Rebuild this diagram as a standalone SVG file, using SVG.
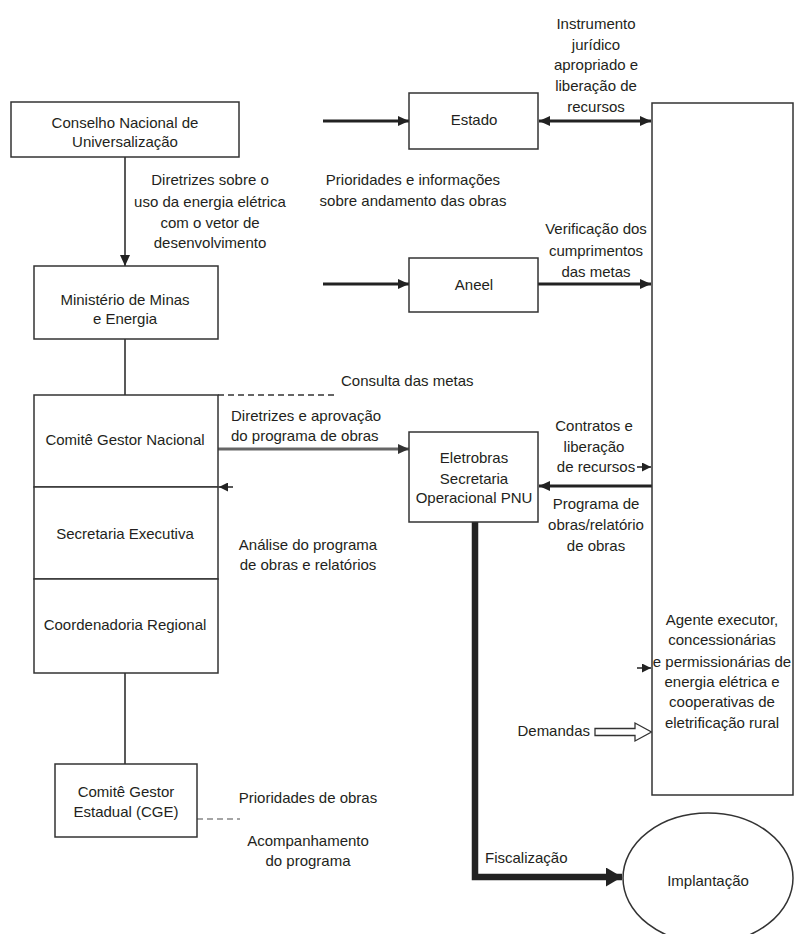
<svg xmlns="http://www.w3.org/2000/svg" width="795" height="934" viewBox="0 0 795 934">
<style>
text{font-family:"Liberation Sans",Arial,sans-serif;font-size:15px;fill:#231f20}
.m{text-anchor:middle}
.e{text-anchor:end}
.box{fill:#fff;stroke:#333;stroke-width:1.5}
.ln{fill:none;stroke:#222;stroke-width:1.5}
.th{fill:none;stroke:#222;stroke-width:3}
.gr{fill:none;stroke:#666;stroke-width:3}
.ds{fill:none;stroke:#333;stroke-width:1.5;stroke-dasharray:6 4}
.dg{fill:none;stroke:#888;stroke-width:1.5;stroke-dasharray:6 4}
</style>
<defs>
<marker id="a" markerUnits="userSpaceOnUse" markerWidth="11" markerHeight="10" refX="11" refY="5" orient="auto-start-reverse"><path d="M0,0 L11,5 L0,10 z" fill="#222"/></marker>
<marker id="ag" markerUnits="userSpaceOnUse" markerWidth="11" markerHeight="10" refX="11" refY="5" orient="auto"><path d="M0,0 L11,5 L0,10 z" fill="#333"/></marker>
<marker id="as" markerUnits="userSpaceOnUse" markerWidth="9" markerHeight="9" refX="9" refY="4.5" orient="auto"><path d="M0,0 L9,4.5 L0,9 z" fill="#222"/></marker>
<marker id="ab" markerUnits="userSpaceOnUse" markerWidth="16" markerHeight="19" refX="16" refY="9.5" orient="auto"><path d="M0,0 L16,9.5 L0,19 z" fill="#222"/></marker>
</defs>

<g id="connectors">
<line class="ln" x1="125" y1="157" x2="125" y2="266" marker-end="url(#a)"/>
<line class="th" x1="323" y1="121" x2="409" y2="121" marker-end="url(#a)"/>
<line class="th" x1="539" y1="121" x2="651" y2="121" marker-start="url(#a)" marker-end="url(#a)"/>
<line class="th" x1="323" y1="284" x2="409" y2="284" marker-end="url(#a)"/>
<line class="th" x1="538" y1="284" x2="651" y2="284" marker-end="url(#a)"/>
<line class="ln" x1="125" y1="339" x2="125" y2="395"/>
<line class="ds" x1="218" y1="395" x2="337" y2="395"/>
<line class="gr" x1="218" y1="449" x2="409" y2="449" marker-end="url(#ag)"/>
<line class="ln" x1="233" y1="487" x2="219" y2="487" marker-end="url(#as)"/>
<line class="ln" x1="637" y1="467" x2="651" y2="467" marker-end="url(#as)"/>
<line class="th" x1="652" y1="486" x2="539" y2="486" marker-end="url(#a)"/>
<line class="ln" x1="637" y1="668" x2="651" y2="668" marker-end="url(#as)"/>
<path d="M595,728.5 H635 V723 L651.5,732 L635,741 V735.5 H595 Z" fill="#fff" stroke="#333" stroke-width="1.3"/>
<line class="ln" x1="125" y1="673" x2="125" y2="764"/>
<line class="dg" x1="197" y1="819" x2="240" y2="819"/>
<path d="M475,522 V877 H622" fill="none" stroke="#222" stroke-width="6.5" marker-end="url(#ab)"/>
</g>

<g id="conselho">
<rect class="box" x="11" y="102" width="228" height="55"/>
<text class="m" x="125" y="128">Conselho Nacional de</text>
<text class="m" x="125" y="147">Universalização</text>
</g>
<g id="label-diretrizes">
<text class="m" x="210" y="185">Diretrizes sobre o</text>
<text class="m" x="210" y="207">uso da energia elétrica</text>
<text class="m" x="210" y="228">com o vetor de</text>
<text class="m" x="210" y="248">desenvolvimento</text>
</g>
<g id="ministerio">
<rect class="box" x="34" y="266" width="184" height="73"/>
<text class="m" x="125" y="305">Ministério de Minas</text>
<text class="m" x="125" y="324">e Energia</text>
</g>
<g id="estado">
<rect class="box" x="409" y="93" width="129" height="56"/>
<text class="m" x="474" y="125">Estado</text>
</g>
<g id="label-instrumento">
<text class="m" x="596" y="29">Instrumento</text>
<text class="m" x="596" y="50">jurídico</text>
<text class="m" x="596" y="70">apropriado e</text>
<text class="m" x="596" y="91">liberação de</text>
<text class="m" x="596" y="112">recursos</text>
</g>
<g id="label-prioridades">
<text class="m" x="413" y="185">Prioridades e informações</text>
<text class="m" x="413" y="206">sobre andamento das obras</text>
</g>
<g id="label-verificacao">
<text class="m" x="596" y="234">Verificação dos</text>
<text class="m" x="596" y="256">cumprimentos</text>
<text class="m" x="596" y="277">das metas</text>
</g>
<g id="aneel">
<rect class="box" x="409" y="258" width="129" height="54"/>
<text class="m" x="474" y="290">Aneel</text>
</g>
<g id="agente">
<rect class="box" x="652" y="103" width="141" height="692"/>
<text class="m" x="722" y="625">Agente executor,</text>
<text class="m" x="722" y="645">concessionárias</text>
<text class="m" x="722" y="667">e permissionárias de</text>
<text class="m" x="722" y="687">energia elétrica e</text>
<text class="m" x="722" y="707">cooperativas de</text>
<text class="m" x="722" y="728">eletrificação rural</text>
</g>
<g id="label-consulta">
<text x="341" y="386">Consulta das metas</text>
</g>
<g id="comite-nacional">
<rect class="box" x="34" y="395" width="184" height="92"/>
<text class="m" x="125" y="445">Comitê Gestor Nacional</text>
</g>
<g id="secretaria-executiva">
<rect class="box" x="34" y="487" width="184" height="92"/>
<text class="m" x="125" y="539">Secretaria Executiva</text>
</g>
<g id="coordenadoria">
<rect class="box" x="34" y="579" width="184" height="94"/>
<text class="m" x="125" y="630">Coordenadoria Regional</text>
</g>
<g id="label-diretrizes-aprov">
<text x="231" y="421">Diretrizes e aprovação</text>
<text x="231" y="441">do programa de obras</text>
</g>
<g id="label-analise">
<text class="m" x="308" y="550">Análise do programa</text>
<text class="m" x="308" y="570">de obras e relatórios</text>
</g>
<g id="eletrobras">
<rect class="box" x="409" y="432" width="129" height="90"/>
<text class="m" x="474" y="463">Eletrobras</text>
<text class="m" x="474" y="484">Secretaria</text>
<text class="m" x="474" y="503">Operacional PNU</text>
</g>
<g id="label-contratos">
<text class="m" x="594" y="431">Contratos e</text>
<text class="m" x="594" y="452">liberação</text>
<text class="m" x="596" y="472">de recursos</text>
</g>
<g id="label-programa">
<text class="m" x="596" y="509">Programa de</text>
<text class="m" x="596" y="530">obras/relatório</text>
<text class="m" x="596" y="551">de obras</text>
</g>
<g id="label-demandas">
<text class="e" x="590" y="736">Demandas</text>
</g>
<g id="comite-estadual">
<rect class="box" x="55" y="764" width="142" height="73"/>
<text class="m" x="126" y="797">Comitê Gestor</text>
<text class="m" x="126" y="817">Estadual (CGE)</text>
</g>
<g id="label-cge">
<text class="m" x="308" y="803">Prioridades de obras</text>
<text class="m" x="308" y="846">Acompanhamento</text>
<text class="m" x="308" y="866">do programa</text>
</g>
<g id="label-fiscalizacao">
<text x="485" y="863">Fiscalização</text>
</g>
<g id="implantacao">
<ellipse cx="708" cy="878" rx="85" ry="65" fill="#fff" stroke="#333" stroke-width="1.5"/>
<text class="m" x="708" y="886">Implantação</text>
</g>
</svg>
